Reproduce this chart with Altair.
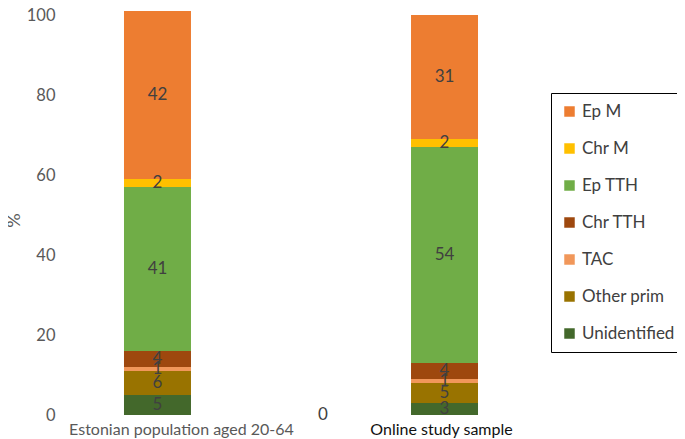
import altair as alt
import pandas as pd

categories = ["Estonian population aged 20-64", "Online study sample"]
series = ["Unidentified", "Other prim", "TAC", "Chr TTH", "Ep TTH", "Chr M", "Ep M"]
estonian = [5, 6, 1, 4, 41, 2, 42]
online = [3, 5, 1, 4, 54, 2, 31]
colors = ["#43682B", "#997300", "#F1975A", "#9E480E", "#70AD47", "#FFC000", "#ED7D31"]
legend_order = ["Ep M", "Chr M", "Ep TTH", "Chr TTH", "TAC", "Other prim", "Unidentified"]
y_ticks = [0, 20, 40, 60, 80, 100]

rows = []
for cat, vals in zip(categories, [estonian, online]):
    for i, (s, v) in enumerate(zip(series, vals)):
        rows.append({"cat": cat, "series": s, "value": v, "ord": i})
df = pd.DataFrame(rows)

FONT = "Lato"

base = alt.Chart(df).transform_stack(
    stack="value", as_=["y0", "y1"], groupby=["cat"], sort=[{"field": "ord"}]
).transform_calculate(mid="(datum.y0 + datum.y1) / 2")

is_online = "datum.value == 'Online study sample'"
xenc = alt.X("cat:N", sort=categories, title=None,
             scale=alt.Scale(paddingInner=0.7666, paddingOuter=0.2125),
             axis=alt.Axis(labelAngle=0, domain=False, ticks=False, labelFontSize=16,
                           labelColor={"condition": {"test": is_online, "value": "#111111"},
                                       "value": "#595959"},
                           labelOffset={"condition": {"test": is_online, "value": -3},
                                        "value": 24},
                           labelFont=FONT, labelPadding=6, labelLimit=0))

bars = base.mark_bar(clip=False).encode(
    x=xenc,
    y=alt.Y("y0:Q", title="%", scale=alt.Scale(domain=[0, 100]),
            axis=alt.Axis(values=y_ticks, grid=False, domain=False, ticks=False,
                          labelFontSize=16.5, labelColor="#595959", labelFont=FONT,
                          labelPadding=8, titleFontSize=18, titleFont=FONT,
                          titleColor="#595959", titleFontWeight="normal",
                          titleX=-40, titleY=205)),
    y2="y1:Q",
    color=alt.Color("series:N", scale=alt.Scale(domain=series, range=colors),
                    sort=legend_order,
                    legend=alt.Legend(title=None, orient="none", legendX=488, legendY=78,
                                      symbolType="square", symbolSize=110,
                                      symbolStrokeWidth=0, labelFontSize=17,
                                      labelFont=FONT, labelColor="#404040",
                                      rowPadding=19, padding=10, strokeColor="black",
                                      labelLimit=200, values=legend_order)),
    order=alt.Order("ord:Q"),
)

labels = base.mark_text(fontSize=17, font=FONT, color="#404040").encode(
    x=alt.X("cat:N", sort=categories),
    y="mid:Q",
    text="value:Q",
)

stray = alt.Chart(pd.DataFrame({"t": ["0"]})).mark_text(
    fontSize=17, font=FONT, color="#404040").encode(
    x=alt.value(260), y=alt.datum(0), text="t:N")

chart = alt.layer(bars, labels, stray).properties(
    width=476, height=400,
    autosize=alt.AutoSizeParams(type="none"),
    padding={"left": 55, "top": 7, "right": 138, "bottom": 24},
).configure_view(stroke=None)

chart.save("out.html", embed_options={"renderer": "svg", "actions": False})
